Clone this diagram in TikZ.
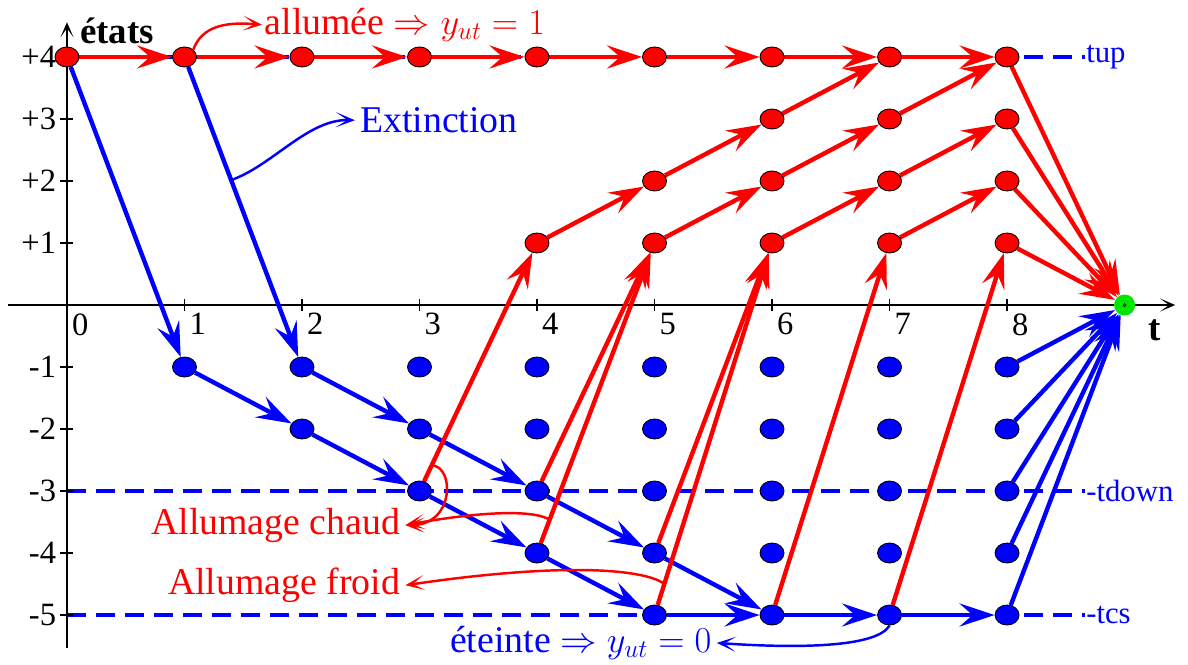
\documentclass[tikz,border=0pt]{standalone}
\usepackage{fontspec}
\setmainfont{Liberation Serif}
\usetikzlibrary{arrows.meta,shapes.geometric}
\pgfdeclarelayer{background}
\pgfsetlayers{background,main}

\begin{document}
\begin{tikzpicture}[
x=2.35cm, y=1.24cm,
onstate/.style={ellipse, draw=black, line width=0.5pt, fill=red, minimum width=0.48cm, minimum height=0.4cm, inner sep=0pt},
offstate/.style={onstate, fill=blue},
sinkstate/.style={circle, fill=green!90!black, minimum size=0.42cm, inner sep=0pt},
onedge/.style={draw=red, line width=2.5pt, -{Stealth[length=7mm, width=4.6mm, inset=2.6mm]}},
offedge/.style={onedge, draw=blue},
noteline/.style={line width=1.4pt, -{Stealth[length=3.8mm, width=3mm, inset=2.3mm]}},
note/.style={font=\fontsize{21.5}{26}\selectfont, inner sep=0.1cm},
ticktext/.style={font=\fontsize{18.5}{22}\selectfont, inner sep=0pt},
limitline/.style={blue, line width=1.9pt, dash pattern=on 0.38cm off 0.2cm},
limittext/.style={font=\fontsize{17.5}{20}\selectfont, text=blue, inner sep=0pt},
axisline/.style={black, line width=0.8pt}
]
\useasboundingbox (-0.57,-5.79) rectangle (9.54,4.919);

% states
\foreach \t in {0,...,8} \node[onstate] (on-\t-4) at (\t,4) {};
\foreach \t in {6,7,8} \node[onstate] (on-\t-3) at (\t,3) {};
\foreach \t in {5,...,8} \node[onstate] (on-\t-2) at (\t,2) {};
\foreach \t in {4,...,8} \node[onstate] (on-\t-1) at (\t,1) {};
\foreach \k in {1,...,5}
  \foreach \t in {\k,...,8} \node[offstate] (off-\t-\k) at (\t,-\k) {};
\node[sinkstate] (sink) at (9,0) {};
\draw[line width=0.4pt] (sink.center) circle (0.8pt);

% labels
\node[note, font=\fontsize{21}{25}\selectfont\bfseries, anchor=west, inner sep=0pt] (etats) at (0.11,4.42) {états};
\node[note, font=\fontsize{21}{25}\selectfont\bfseries, inner sep=0pt] (tname) at (9.26,-0.4) {t};
\node[note, red, anchor=west, inner sep=0.05cm] (ontext) at (1.66,4.52) {allumée $\Rightarrow y_{ut}=1$};
\node[note, blue, anchor=west] (exttext) at (2.45,2.98) {Extinction};
\node[note, red, anchor=east] (chaudtext) at (2.88,-3.55) {Allumage chaud};
\node[note, red, anchor=east] (froidtext) at (2.88,-4.52) {Allumage froid};
\node[note, blue, anchor=east] (offtext) at (5.53,-5.45) {éteinte $\Rightarrow y_{ut}=0$};

\begin{pgfonlayer}{background}
% limits
\draw[limitline] (0,4) -- (8.66,4) node[limittext, anchor=west] (tup) {tup};
\draw[limitline] (0,-3) -- (8.66,-3) node[limittext, anchor=west] (tdown) {-tdown};
\draw[limitline] (0,-5) -- (8.66,-5) node[limittext, anchor=west] (tcs) {-tcs};

% axes
\draw[axisline, -{Stealth[length=3mm, width=2.6mm, inset=1.8mm]}] (-0.5,0) -- (9.43,0);
\draw[axisline, -{Stealth[length=3mm, width=2.6mm, inset=1.8mm]}] (0,-5.53) -- (0,4.56);
\foreach \t in {0,...,8} {
  \draw[axisline] (\t,-0.1) -- (\t,0.1);
  \node[ticktext, anchor=north west] at (\t+0.04,-0.13) {\t};
}
\foreach \s/\lab in {4/+4,3/+3,2/+2,1/+1,-1/-1,-2/-2,-3/-3,-4/-4,-5/-5} {
  \draw[axisline] (-0.06,\s) -- (0.05,\s);
  \node[ticktext, anchor=east] at (-0.09,\s) {\lab};
}

% off transitions
\draw[offedge] (on-0-4) -- (off-1-1);
\draw[offedge] (on-1-4) -- (off-2-1);
\foreach \a/\b in {off-1-1/off-2-2, off-2-2/off-3-3, off-3-3/off-4-4, off-4-4/off-5-5,
  off-5-5/off-6-5, off-6-5/off-7-5, off-7-5/off-8-5,
  off-2-1/off-3-2, off-3-2/off-4-3, off-4-3/off-5-4, off-5-4/off-6-5}
  \draw[offedge] (\a) -- (\b);
\foreach \k in {1,...,5} \draw[offedge] (off-8-\k) -- (sink);

% on transitions
\foreach \a/\b in {0/1,1/2,2/3,3/4,4/5,5/6,6/7,7/8} \draw[onedge] (on-\a-4) -- (on-\b-4);
\foreach \a/\b in {on-4-1/on-5-2, on-5-2/on-6-3, on-6-3/on-7-4,
  on-5-1/on-6-2, on-6-2/on-7-3, on-7-3/on-8-4,
  on-6-1/on-7-2, on-7-2/on-8-3, on-7-1/on-8-2}
  \draw[onedge] (\a) -- (\b);
\foreach \a/\b in {off-3-3/on-4-1, off-4-3/on-5-1, off-4-4/on-5-1, off-5-4/on-6-1,
  off-5-5/on-6-1, off-6-5/on-7-1, off-7-5/on-8-1}
  \draw[onedge] (\a) -- (\b);
\foreach \s in {1,...,4} \draw[onedge] (on-8-\s) -- (sink);
\end{pgfonlayer}

% annotations
\path (on-1-4) -- (off-2-1) coordinate[pos=0.39] (extA);
\path (off-3-3) -- (on-4-1) coordinate[pos=0.07] (chaudA);
\path (off-4-4) -- (on-5-1) coordinate[pos=0.08] (chaudB);
\path (off-5-5) -- (on-6-1) coordinate[pos=0.06] (froidA);
\draw[noteline, red] (on-1-4.north east) .. controls (1.15,4.5) and (1.35,4.57) .. (ontext.west);
\draw[noteline, blue] (extA) .. controls (1.75,2.25) and (2.05,3.0) .. (exttext.west);
\draw[noteline, red] (chaudA) .. controls (3.3,-2.6) and (3.3,-3.55) .. (chaudtext.east);
\draw[noteline, red] (chaudB) .. controls (4.0,-3.32) and (3.6,-3.3) .. (chaudtext.east);
\draw[noteline, red] (froidA) .. controls (4.9,-4.25) and (4.2,-4.15) .. (froidtext.east);
\draw[noteline, blue] (off-7-5.south) .. controls (6.9,-5.5) and (6.3,-5.55) .. (offtext.east);
\end{tikzpicture}
\end{document}
